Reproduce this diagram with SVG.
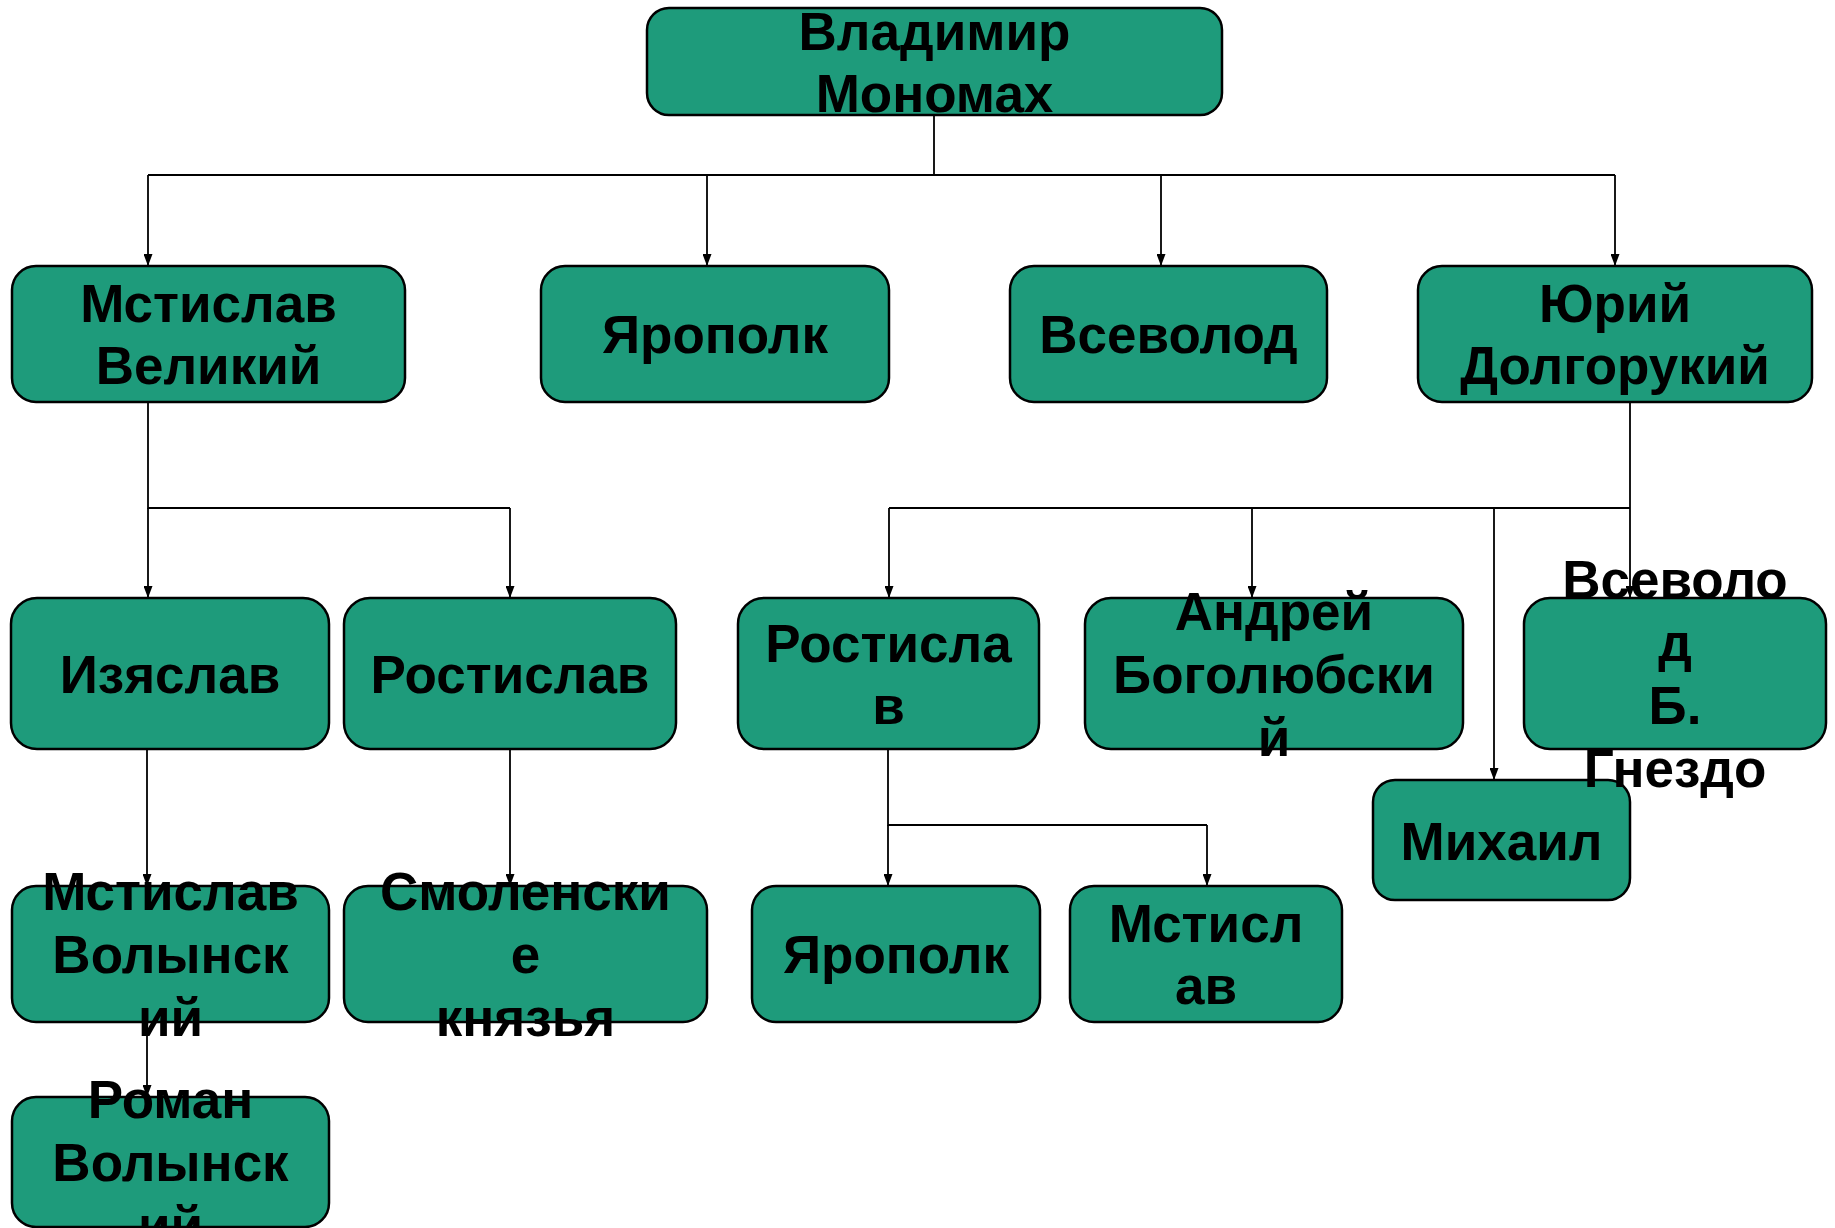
<svg xmlns="http://www.w3.org/2000/svg" width="1835" height="1228" viewBox="0 0 1835 1228">
<style>
.box{fill:#1e9b7b;stroke:#000;stroke-width:2.5}
.t{font-family:"Liberation Sans",Arial,sans-serif;font-weight:bold;font-size:53px;fill:#000;text-anchor:middle}
.c{fill:none;stroke:#000;stroke-width:1.8}
</style>
<defs>
<marker id="a" markerUnits="userSpaceOnUse" markerWidth="12" markerHeight="9" refX="12" refY="4.5" orient="auto" viewBox="0 0 12 9">
<path d="M0,0 L12,4.5 L0,9 Z" fill="#000"/>
</marker>
</defs>
<rect width="1835" height="1228" fill="#fff"/>
<g id="connectors">
<path class="c" d="M934,115 V175 M148,175 H1615"/>
<path class="c" d="M148,175 V266" marker-end="url(#a)"/>
<path class="c" d="M707,175 V266" marker-end="url(#a)"/>
<path class="c" d="M1161,175 V266" marker-end="url(#a)"/>
<path class="c" d="M1615,175 V266" marker-end="url(#a)"/>
<path class="c" d="M148,402 V508 H510"/>
<path class="c" d="M148,508 V598" marker-end="url(#a)"/>
<path class="c" d="M510,508 V598" marker-end="url(#a)"/>
<path class="c" d="M1630,402 V598" marker-end="url(#a)"/>
<path class="c" d="M889,508 H1630"/>
<path class="c" d="M889,508 V598" marker-end="url(#a)"/>
<path class="c" d="M1252,508 V598" marker-end="url(#a)"/>
<path class="c" d="M1494,508 V780" marker-end="url(#a)"/>
<path class="c" d="M147,749 V886" marker-end="url(#a)"/>
<path class="c" d="M510,749 V886" marker-end="url(#a)"/>
<path class="c" d="M147,1022 V1097" marker-end="url(#a)"/>
<path class="c" d="M888,749 V825 H1207"/>
<path class="c" d="M888,825 V886" marker-end="url(#a)"/>
<path class="c" d="M1207,825 V886" marker-end="url(#a)"/>
</g>
<g id="n-vladimir"><rect class="box" x="647" y="8" width="575" height="107" rx="22"/>
<text class="t" x="934.5" y="50">Владимир</text><text class="t" x="934.5" y="112">Мономах</text></g>
<g id="n-mstislav-velikiy"><rect class="box" x="12" y="266" width="393" height="136" rx="24"/>
<text class="t" x="208.5" y="322">Мстислав</text><text class="t" x="208.5" y="384">Великий</text></g>
<g id="n-yaropolk"><rect class="box" x="541" y="266" width="348" height="136" rx="24"/>
<text class="t" x="715" y="353">Ярополк</text></g>
<g id="n-vsevolod"><rect class="box" x="1010" y="266" width="317" height="136" rx="24"/>
<text class="t" x="1168.5" y="353">Всеволод</text></g>
<g id="n-yuri"><rect class="box" x="1418" y="266" width="394" height="136" rx="24"/>
<text class="t" x="1615" y="322">Юрий</text><text class="t" x="1615" y="384">Долгорукий</text></g>
<g id="n-izyaslav"><rect class="box" x="11" y="598" width="318" height="151" rx="26"/>
<text class="t" x="170" y="693">Изяслав</text></g>
<g id="n-rostislav1"><rect class="box" x="344" y="598" width="332" height="151" rx="26"/>
<text class="t" x="510" y="693">Ростислав</text></g>
<g id="n-rostislav2"><rect class="box" x="738" y="598" width="301" height="151" rx="26"/>
<text class="t" x="888.5" y="662">Ростисла</text><text class="t" x="888.5" y="724">в</text></g>
<g id="n-andrey"><rect class="box" x="1085" y="598" width="378" height="151" rx="26"/>
<text class="t" x="1274" y="630">Андрей</text><text class="t" x="1274" y="693">Боголюбски</text><text class="t" x="1274" y="756">й</text></g>
<g id="n-mikhail"><rect class="box" x="1373" y="780" width="257" height="120" rx="22"/>
<text class="t" x="1501.5" y="860">Михаил</text></g>
<g id="n-vsevolod-b"><rect class="box" x="1524" y="598" width="302" height="151" rx="26"/>
<text class="t" x="1675" y="598">Всеволо</text><text class="t" x="1675" y="661">д</text><text class="t" x="1675" y="724">Б.</text><text class="t" x="1675" y="787">Гнездо</text></g>
<g id="n-mstislav-volynskiy"><rect class="box" x="12" y="886" width="317" height="136" rx="24"/>
<text class="t" x="170.5" y="910">Мстислав</text><text class="t" x="170.5" y="973">Волынск</text><text class="t" x="170.5" y="1036">ий</text></g>
<g id="n-smolenskie"><rect class="box" x="344" y="886" width="363" height="136" rx="24"/>
<text class="t" x="525.5" y="910">Смоленски</text><text class="t" x="525.5" y="973">е</text><text class="t" x="525.5" y="1036">князья</text></g>
<g id="n-yaropolk2"><rect class="box" x="752" y="886" width="288" height="136" rx="24"/>
<text class="t" x="896" y="973">Ярополк</text></g>
<g id="n-mstislav2"><rect class="box" x="1070" y="886" width="272" height="136" rx="24"/>
<text class="t" x="1206" y="942">Мстисл</text><text class="t" x="1206" y="1004">ав</text></g>
<g id="n-roman"><rect class="box" x="12" y="1097" width="317" height="130" rx="24"/>
<text class="t" x="170.5" y="1118">Роман</text><text class="t" x="170.5" y="1181">Волынск</text><text class="t" x="170.5" y="1244">ий</text></g>
</svg>
